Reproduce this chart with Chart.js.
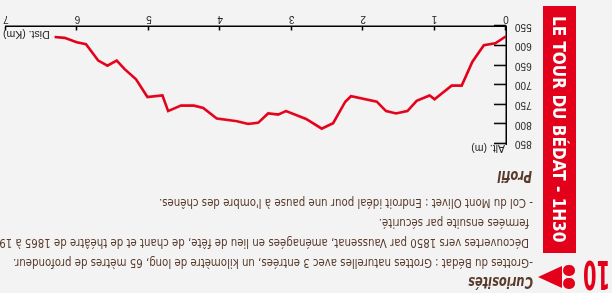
<!DOCTYPE html>
<html>
<head>
<meta charset="utf-8">
<script src="https://cdn.jsdelivr.net/npm/chart.js@4.4.1/dist/chart.umd.min.js"></script>
<style>
	html, body { margin: 0; padding: 0; background: #f3f3f3; }
	#page {
		position: relative; width: 612px; height: 293px; overflow: hidden;
		background: #f3f3f3; transform: rotate(180deg);
		font-family: "Liberation Sans Narrow", "DejaVu Sans Condensed", sans-serif;
		color: #5a3b2b;
	}
	.txt { position: absolute; white-space: nowrap; font-size: 12px; line-height: 12px; transform-origin: left top; transform: scaleX(0.945); }
	.head { position: absolute; white-space: nowrap; font-weight: bold; font-style: italic; font-size: 15px; line-height: 15px; transform-origin: left top; transform: scaleX(0.85); }
	#banner {
		position: absolute; left: 36px; top: 40px; width: 33px; height: 247px; background: #e2001a;
		display: flex; align-items: center; justify-content: center;
	}
	#banner span {
		writing-mode: vertical-rl; transform: rotate(180deg) scaleY(0.945);
		color: #fff; font-weight: bold; font-size: 18px; white-space: nowrap;
		font-family: "Liberation Sans Narrow", "DejaVu Sans Condensed", sans-serif;
	}
	#num {
		position: absolute; left: 2px; top: -1.5px; color: #e2001a; font-weight: bold;
		font-size: 39px; line-height: 39px; transform-origin: left top; transform: scaleX(0.55);
	}
	.dot { position: absolute; width: 11.6px; height: 11.6px; border-radius: 50%; background: #e2001a; left: 37px; }
	#tri {
		position: absolute; left: 50px; top: 5px; width: 0; height: 0;
		border-top: 11px solid transparent; border-bottom: 11px solid transparent; border-left: 24px solid #e2001a;
	}
	#chartBox { position: absolute; left: 70px; top: 134px; width: 542px; height: 159px; }
</style>
</head>
<body>
<div id="page">
	<div id="num">10</div>
	<div class="dot" style="top:3.7px"></div>
	<div class="dot" style="top:16.7px"></div>
	<div id="tri"></div>
	<div id="banner"><span>LE TOUR DU BÉDAT - 1H30</span></div>

	<div class="head" style="left:79px; top:4px;">Curiosités</div>
	<div class="txt" style="left:79px; top:23.5px;">-Grottes du Bédat : Grottes naturelles avec 3 entrées, un kilomètre de long, 65 mètres de profondeur.</div>
	<div class="txt" style="left:83px; top:43.5px;">Découvertes vers 1850 par Vaussenat, aménagées en lieu de fête, de chant et de théâtre de 1865 à 1900,</div>
	<div class="txt" style="left:83px; top:63.5px;">fermées ensuite par sécurité.</div>
	<div class="txt" style="left:79px; top:83.5px;">- Col du Mont Olivet : Endroit idéal pour une pause à l'ombre des chênes.</div>
	<div class="head" style="left:80px; top:110px;">Profil</div>

	<div id="chartBox"><canvas id="profil" width="542" height="159"></canvas></div>
</div>

<script>
// profil altimetrique : distance (km) / altitude (m)
const distances = [0, 0.15, 0.31, 0.47, 0.62, 0.76, 0.89, 1.0, 1.07, 1.25, 1.38, 1.54, 1.68, 1.81, 2.17, 2.25, 2.42, 2.58, 2.8, 3.08, 3.19, 3.33, 3.47, 3.61, 3.77, 4.05, 4.24, 4.37, 4.55, 4.73, 4.81, 5.02, 5.18, 5.34, 5.45, 5.58, 5.71, 5.88, 6.01, 6.18, 6.32];
const altitudes = [575, 593, 598, 640, 701, 701, 720, 736, 726, 740, 766, 772, 766, 742, 728, 742, 797, 811, 786, 766, 775, 772, 796, 799, 792, 785, 758, 752, 752, 766, 726, 730, 685, 659, 637, 650, 637, 595, 590, 579, 577];
const distTicks = [0, 1, 2, 3, 4, 5, 6, 7];
const altTicks = [550, 600, 650, 700, 750, 800, 850];

const axisFont = { family: "'Liberation Sans', Arial, sans-serif", size: 10 };

// ticks vers l'interieur + titres des axes
const innerTicks = {
	id: 'innerTicks',
	afterDraw(chart)
	{
		const { ctx, chartArea: a, scales: { x, y } } = chart;
		ctx.save();
		ctx.strokeStyle = '#000';
		ctx.lineWidth = 1.5;
		altTicks.forEach(v => {
			const p = Math.round(y.getPixelForValue(v)) + 0.5;
			ctx.beginPath();
			ctx.moveTo(a.left, p);
			ctx.lineTo(a.left + 12, p);
			ctx.stroke();
		});
		distTicks.forEach(v => {
			const p = Math.round(x.getPixelForValue(v)) + 0.5;
			ctx.beginPath();
			ctx.moveTo(p, a.bottom);
			ctx.lineTo(p, a.bottom - 4);
			ctx.stroke();
		});
		ctx.fillStyle = '#222';
		ctx.font = "10.5px 'Liberation Sans', Arial, sans-serif";
		ctx.textAlign = 'right';
		ctx.textBaseline = 'alphabetic';
		ctx.fillText('Dist. (Km)', a.right + 3, a.bottom - 5);
		ctx.textAlign = 'left';
		ctx.fillText('Alt. (m)', a.left + 1, a.top - 1);
		ctx.restore();
	}
};

new Chart(document.getElementById('profil').getContext('2d'), {
	type: 'line',
	data: {
		datasets: [{
			data: distances.map((d, i) => ({ x: d, y: altitudes[i] })),
			borderColor: '#e2001a',
			borderWidth: 2.6,
			pointRadius: 0,
			tension: 0,
			fill: false
		}]
	},
	options: {
		responsive: false,
		animation: false,
		layout: { padding: { top: 10, right: 6, left: 0, bottom: 0 } },
		plugins: { legend: { display: false }, tooltip: { enabled: false } },
		scales: {
			x: {
				type: 'linear', min: 0, max: 7,
				grid: { display: false, drawTicks: false },
				border: { display: true, color: '#000', width: 1.5 },
				afterBuildTicks: (s) => { s.ticks = distTicks.map(v => ({ value: v })); },
				ticks: { padding: 2, color: '#222', font: axisFont },
				afterFit: (s) => { s.height = 26.5; }
			},
			y: {
				min: 550, max: 850,
				grid: { display: false, drawTicks: false },
				border: { display: true, color: '#000', width: 1.5 },
				afterBuildTicks: (s) => { s.ticks = altTicks.map(v => ({ value: v })); },
				ticks: { padding: 9, color: '#222', font: axisFont },
				afterFit: (s) => { s.width = 36; }
			}
		}
	},
	plugins: [innerTicks]
});
</script>
</body>
</html>
